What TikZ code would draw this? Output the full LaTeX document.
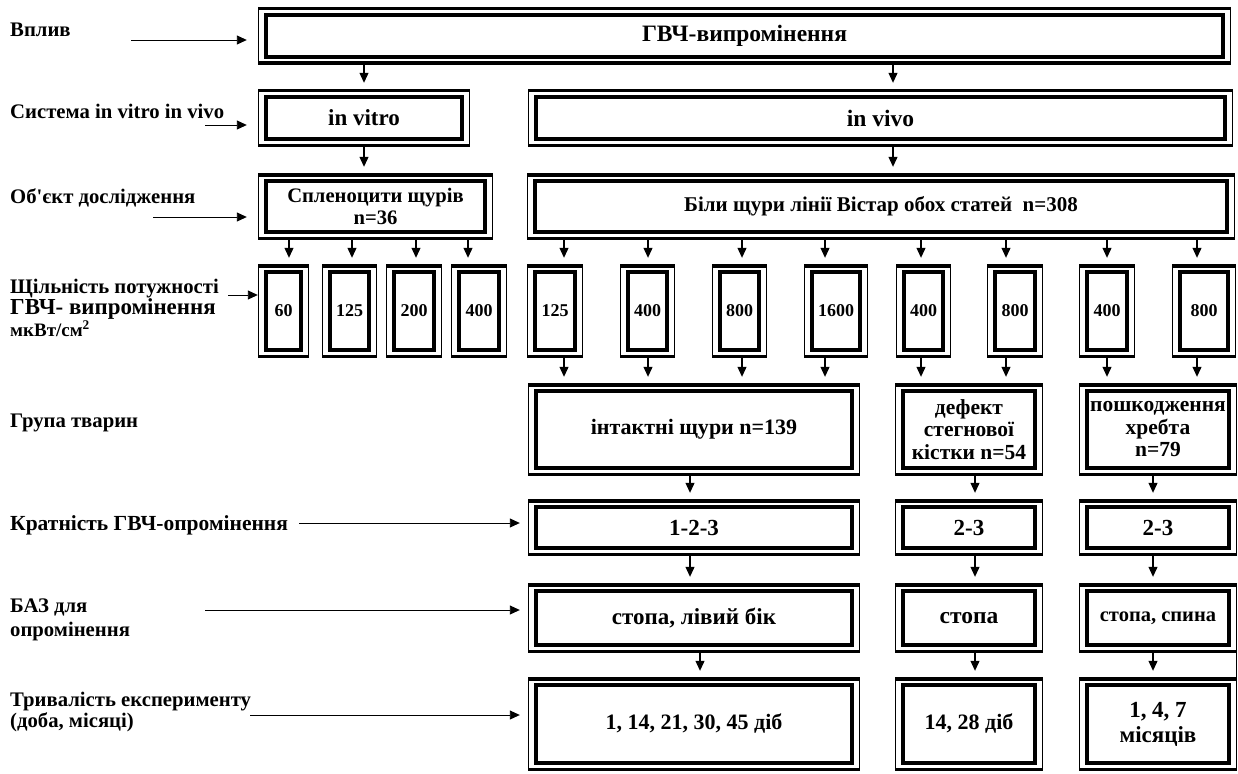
\documentclass[tikz,border=0pt]{standalone}
\usepackage{fontspec}
\setmainfont{Liberation Serif}
\usetikzlibrary{arrows.meta,calc}
\tikzset{
  frm/.style={inner sep=0pt, align=center, path picture={
    \draw[line width=3.5pt] ([yshift=-1.75pt]path picture bounding box.north west) -- ([yshift=-1.75pt]path picture bounding box.north east);
    \draw[line width=3.5pt] ([yshift=1.75pt]path picture bounding box.south west) -- ([yshift=1.75pt]path picture bounding box.south east);
    \draw[line width=1.3pt] ([xshift=0.65pt]path picture bounding box.north west) -- ([xshift=0.65pt]path picture bounding box.south west);
    \draw[line width=1.3pt] ([xshift=-0.65pt]path picture bounding box.north east) -- ([xshift=-0.65pt]path picture bounding box.south east);
    \draw[line width=3.8pt] ([shift={(8pt,-8pt)}]path picture bounding box.north west) rectangle ([shift={(-8pt,8pt)}]path picture bounding box.south east);
  }},
  arr/.style={-{Triangle[length=10pt,width=9pt]}, line width=1.1pt, shorten >=6pt},
  larr/.style={-{Triangle[length=10pt,width=9pt]}, line width=0.9pt},
  lbl/.style={inner sep=0pt, anchor=base west, align=left, font=\bfseries\fontsize{20.7}{24}\selectfont}
}
\newcommand\bx[7]{%
  \pgfmathsetmacro\bxcx{(#2+#4)/2}\pgfmathsetmacro\bxcy{(#3+#5)/2}%
  \pgfmathsetmacro\bxw{#4-#2}\pgfmathsetmacro\bxh{#5-#3}%
  \node[frm, minimum width=\bxw pt, minimum height=\bxh pt, font=\bfseries#6] (#1) at (\bxcx,\bxcy) {#7};}
\newcommand\varr[3]{\path (#3,0) coordinate (vx); \draw[arr] (vx |- #1.south) -- (vx |- #2.north);}
\begin{document}
\begin{tikzpicture}[x=1pt,y=-1pt]
\useasboundingbox[fill=white] (0,0) rectangle (1238,773);
% row 1
\bx{g}{258}{7}{1231}{65}{\fontsize{23.5}{26}\selectfont}{ГВЧ-випромінення}
% row 2
\bx{vitro}{258}{89}{470}{147}{\fontsize{23}{26}\selectfont}{in vitro}
\bx{vivo}{528}{89}{1233}{147}{\fontsize{23.5}{26}\selectfont}{in vivo}
% row 3
\bx{spl}{258}{173}{493}{240}{\fontsize{20.6}{22}\selectfont}{Спленоцити щурів\\n=36}
\bx{rats}{527}{173}{1235}{240}{\fontsize{21}{24}\selectfont}{Біли щури лінії Вістар обох статей~~n=308}
% row 4
\bx{a1}{258}{264}{309}{358}{\fontsize{18}{22}\selectfont}{60}
\bx{a2}{322}{264}{377}{358}{\fontsize{18}{22}\selectfont}{125}
\bx{a3}{386}{264}{442}{358}{\fontsize{18}{22}\selectfont}{200}
\bx{a4}{451}{264}{507}{358}{\fontsize{18}{22}\selectfont}{400}
\bx{b1}{527}{264}{583}{358}{\fontsize{18}{22}\selectfont}{125}
\bx{b2}{620}{264}{675}{358}{\fontsize{18}{22}\selectfont}{400}
\bx{b3}{712}{264}{767}{358}{\fontsize{18}{22}\selectfont}{800}
\bx{b4}{804}{264}{868}{358}{\fontsize{18}{22}\selectfont}{1600}
\bx{b5}{896}{264}{951}{358}{\fontsize{18}{22}\selectfont}{400}
\bx{b6}{987}{264}{1043}{358}{\fontsize{18}{22}\selectfont}{800}
\bx{b7}{1079}{264}{1135}{358}{\fontsize{18}{22}\selectfont}{400}
\bx{b8}{1172}{264}{1236}{358}{\fontsize{18}{22}\selectfont}{800}
% row 5
\bx{c1}{528}{383}{860}{476}{\fontsize{22}{24}\selectfont}{інтактні щури n=139}
\bx{c2}{895}{383}{1043}{476}{\fontsize{21.5}{22.5}\selectfont}{дефект\\стегнової\\кістки n=54}
\bx{c3}{1079}{383}{1237}{476}{\fontsize{21.5}{22.5}\selectfont}{пошкодження\\хребта\\n=79}
% row 6
\bx{d1}{528}{499}{860}{556}{\fontsize{23}{24}\selectfont}{1-2-3}
\bx{d2}{895}{499}{1043}{556}{\fontsize{23}{24}\selectfont}{2-3}
\bx{d3}{1079}{499}{1237}{556}{\fontsize{23}{24}\selectfont}{2-3}
% row 7
\bx{e1}{528}{583}{860}{653}{\fontsize{23}{24}\selectfont}{стопа, лівий бік}
\bx{e2}{895}{583}{1043}{653}{\fontsize{23.5}{24}\selectfont}{стопа}
\bx{e3}{1079}{583}{1237}{653}{\fontsize{20.5}{24}\selectfont}{стопа, спина}
% row 8
\bx{f1}{528}{677}{860}{771}{\fontsize{22}{24}\selectfont}{1, 14, 21, 30, 45 діб}
\bx{f2}{895}{677}{1043}{771}{\fontsize{22}{24}\selectfont}{14, 28 діб}
\bx{f3}{1079}{677}{1237}{771}{\fontsize{23}{25}\selectfont}{1, 4, 7\\місяців}
\draw[line width=1.3pt] ([xshift=-0.65pt]e3.south east) -- ([xshift=-0.65pt]f3.north east);
% vertical arrows
\varr{g}{vitro}{364}
\varr{g}{vivo}{893}
\varr{vitro}{spl}{364}
\varr{vivo}{rats}{893}
\varr{spl}{a1}{289}
\varr{spl}{a2}{352}
\varr{spl}{a3}{416}
\varr{spl}{a4}{468}
\varr{rats}{b1}{564}
\varr{rats}{b2}{648}
\varr{rats}{b3}{742}
\varr{rats}{b4}{825}
\varr{rats}{b5}{921}
\varr{rats}{b6}{1006}
\varr{rats}{b7}{1107}
\varr{rats}{b8}{1197}
\varr{b1}{c1}{564}
\varr{b2}{c1}{648}
\varr{b3}{c1}{742}
\varr{b4}{c1}{825}
\varr{b5}{c2}{921}
\varr{b6}{c2}{1006}
\varr{b7}{c3}{1107}
\varr{b8}{c3}{1197}
\varr{c1}{d1}{690}
\varr{c2}{d2}{975}
\varr{c3}{d3}{1153}
\varr{d1}{e1}{690}
\varr{d2}{e2}{975}
\varr{d3}{e3}{1153}
\varr{e1}{f1}{700}
\varr{e2}{f2}{975}
\varr{e3}{f3}{1153}
% left labels
\node[lbl] (l1) at (10,37) {Вплив};
\node[lbl] (l2) at (10,118) {Система in vitro in vivo};
\node[lbl] (l3) at (10,203) {Об\textquotesingle єкт дослідження};
\node[lbl] (l4) at (10,293) {Щільність потужності};
\node[lbl, font=\bfseries\fontsize{22.9}{24}\selectfont] (l4b) at (10,314) {ГВЧ- випромінення};
\node[lbl, font=\bfseries\fontsize{19}{24}\selectfont] (l4c) at (10,336) {мкВт/см\textsuperscript{2}};
\node[lbl] (l5) at (10,427) {Група тварин};
\node[lbl, font=\bfseries\fontsize{21.5}{24}\selectfont] (l6) at (10,530) {Кратність ГВЧ-опромінення};
\node[lbl] (l7) at (10,636) {БАЗ для\\опромінення};
\node[lbl, font=\bfseries\fontsize{20.7}{21}\selectfont] (l8) at (10,727) {Тривалість експерименту\\(доба, місяці)};
% left arrows
\coordinate (s1) at (131,40);
\coordinate (s2) at (205,125);
\coordinate (s3) at (153,217);
\coordinate (s4) at (228,295);
\coordinate (s6) at (299,523);
\coordinate (s7) at (205,610);
\coordinate (s8) at (250,715);
\draw[larr, shorten >=11pt] (s1) -- (s1 -| g.west);
\draw[larr, shorten >=11pt] (s2) -- (s2 -| vitro.west);
\draw[larr, shorten >=11pt] (s3) -- (s3 -| spl.west);
\draw[larr] (s4) -- (s4 -| a1.west);
\draw[larr, shorten >=8pt] (s6) -- (s6 -| d1.west);
\draw[larr, shorten >=8pt] (s7) -- (s7 -| e1.west);
\draw[larr, shorten >=8pt] (s8) -- (s8 -| f1.west);
\end{tikzpicture}
\end{document}
